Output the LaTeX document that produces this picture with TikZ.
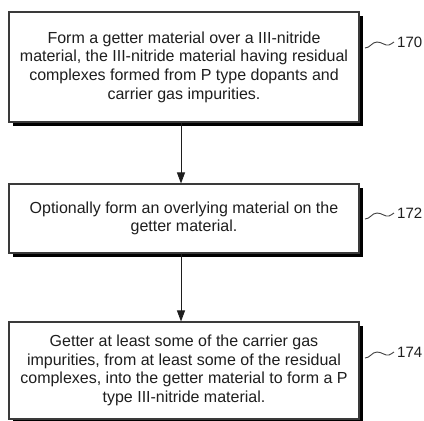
\documentclass[tikz,border=0pt]{standalone}
\usepackage{fontspec}
\setmainfont{Liberation Sans}
\usetikzlibrary{arrows.meta}
\definecolor{ink}{HTML}{1E1E1E}
\definecolor{edge}{HTML}{3A3A3A}
\begin{document}
\begin{tikzpicture}[x=1pt,y=-1pt,
  stepbox/.style={draw=edge, line width=1.1pt, fill=white, minimum width=350pt,
    align=center, text=ink, inner sep=0pt,
    font=\fontsize{16}{18.7}\selectfont},
  shadowbox/.style={fill=black, draw=none, minimum width=350pt, inner sep=0pt},
  flow/.style={draw=ink, line width=0.9pt, -{Triangle[length=11pt,width=8pt]}},
  squig/.style={draw=ink!85, line width=0.9pt},
  reflabel/.style={anchor=west, text=ink, inner sep=0pt, font=\fontsize{15}{15}\selectfont}]
\useasboundingbox (0,0) rectangle (424,421);
\clip (0,0) rectangle (424,421);
\fill[white] (0,0) rectangle (424,421);

% shadows
\node[shadowbox, minimum height=110pt] (s1) at (187.5,70.5) {};
\node[shadowbox, minimum height=69pt] (s2) at (187.5,222) {};
\node[shadowbox, minimum height=97pt] (s3) at (187.5,374) {};

% boxes
\node[stepbox, minimum height=110pt] (b1) at (184,67)
 {Form a getter material over a III-nitride\\
  material, the III-nitride material having residual\\
  complexes formed from P type dopants and\\
  carrier gas impurities.};
\node[stepbox, minimum height=69pt] (b2) at (184,218.5)
 {Optionally form an overlying material on the\\
  getter material.};
\node[stepbox, minimum height=97pt] (b3) at (184,370.5)
 {Getter at least some of the carrier gas\\
  impurities, from at least some of the residual\\
  complexes, into the getter material to form a P\\
  type III-nitride material.};

% connectors
\draw[flow] ([xshift=-3pt]b1.south) -- ([xshift=-3pt]b2.north);
\draw[flow] ([xshift=-3pt]b2.south) -- ([xshift=-3pt]b3.north);

% reference labels
\node[reflabel] (l1) at (397,42) {170};
\node[reflabel] (l2) at (397,213) {172};
\node[reflabel] (l3) at (397,352) {174};
\coordinate (q1) at (365,48);
\coordinate (q2) at (365,219);
\coordinate (q3) at (365,358);
\draw[squig] (q1) .. controls (370,48) and (372,42) .. (377,42) .. controls (382,42) and (385,46) .. (389,45) .. controls (391,44.5) and (392,43) .. ([xshift=-3pt]l1.west);
\draw[squig] (q2) .. controls (370,219) and (372,213) .. (377,213) .. controls (382,213) and (385,217) .. (389,216) .. controls (391,215.5) and (392,214) .. ([xshift=-3pt]l2.west);
\draw[squig] (q3) .. controls (370,358) and (372,352) .. (377,352) .. controls (382,352) and (385,356) .. (389,355) .. controls (391,354.5) and (392,353) .. ([xshift=-3pt]l3.west);
\end{tikzpicture}
\end{document}
